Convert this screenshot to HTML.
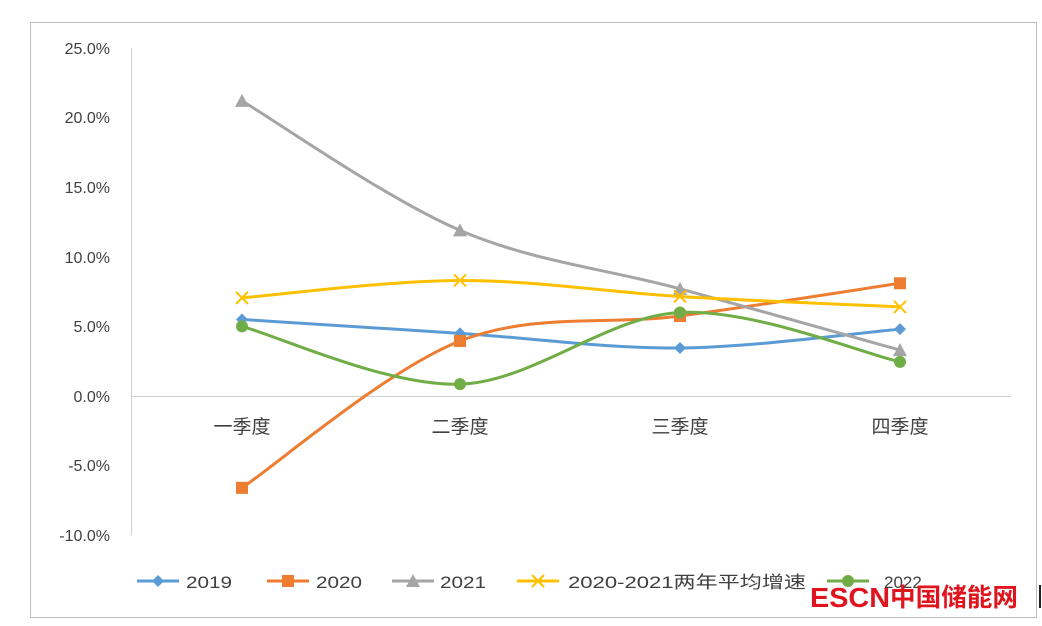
<!DOCTYPE html>
<html><head><meta charset="utf-8"><style>
body{margin:0;background:#fff;width:1042px;height:626px;overflow:hidden;font-family:"Liberation Sans","Noto Sans CJK SC",sans-serif}
</style></head><body>
<svg id="s" width="1042" height="626" xmlns="http://www.w3.org/2000/svg" style="position:absolute;left:0;top:0">
<rect x="30.5" y="22.5" width="1006" height="595" fill="#fff" stroke="#bfbfbf"/>
<g font-size="16" fill="#404040" text-anchor="end" font-family="Liberation Sans,sans-serif">
<text x="110" y="54">25.0%</text><text x="110" y="123">20.0%</text><text x="110" y="193">15.0%</text>
<text x="110" y="263">10.0%</text><text x="110" y="332">5.0%</text><text x="110" y="402">0.0%</text>
<text x="110" y="471">-5.0%</text><text x="110" y="541">-10.0%</text>
</g>
<line x1="131.5" y1="48" x2="131.5" y2="535" stroke="#d0d0d0"/>
<line x1="131" y1="396.5" x2="1011" y2="396.5" stroke="#d0d0d0"/>
<g font-size="19" fill="#404040" text-anchor="middle" font-family="Noto Sans CJK SC,sans-serif">
<text x="242" y="433">一季度</text><text x="460" y="433">二季度</text><text x="680" y="433">三季度</text><text x="900" y="433">四季度</text>
</g>
<g id="series"></g>
<g id="legend" font-size="17" fill="#404040" font-family="Liberation Sans,Noto Sans CJK SC,sans-serif">
<text x="186" y="588" textLength="46" lengthAdjust="spacingAndGlyphs">2019</text><text x="316" y="588" textLength="46" lengthAdjust="spacingAndGlyphs">2020</text><text x="440" y="588" textLength="46" lengthAdjust="spacingAndGlyphs">2021</text>
<text x="568" y="588" textLength="238" lengthAdjust="spacingAndGlyphs">2020-2021两年平均增速</text><text x="884" y="588">2022</text>
</g>
<text x="810" y="607" font-size="28" font-weight="bold" fill="#e0141e" font-family="Liberation Sans,sans-serif" textLength="80" lengthAdjust="spacingAndGlyphs">ESCN</text>
<text x="890" y="606" font-size="25" font-weight="bold" fill="#e0141e" font-family="Noto Sans CJK SC,sans-serif" textLength="128" lengthAdjust="spacingAndGlyphs">中国储能网</text>
<line x1="1040" y1="585" x2="1040" y2="608" stroke="#222" stroke-width="2"/>
</svg>
<script>
var X=[242,460,680,900];function Y(v){return 396-v*13.92;}
var S=[["#5b9bd5",[5.5,4.5,3.45,4.8],"d",165],["#ed7d31",[-6.6,3.95,5.75,8.1],"s",295],["#a5a5a5",[21.2,11.9,7.7,3.3],"t",420],["#ffc000",[7.05,8.3,7.15,6.4],"x",545],["#70ad47",[5.0,0.85,6.0,2.45],"c",855]];
var g=document.getElementById("series"),h="";
function mk(t,x,y,c){if(t=="d")return '<path d="M'+x+' '+(y-6)+'L'+(x+6)+' '+y+'L'+x+' '+(y+6)+'L'+(x-6)+' '+y+'Z" fill="'+c+'"/>';
if(t=="s")return '<rect x="'+(x-6)+'" y="'+(y-6)+'" width="12" height="12" fill="'+c+'"/>';
if(t=="t")return '<path d="M'+x+' '+(y-7)+'L'+(x+7)+' '+(y+6)+'L'+(x-7)+' '+(y+6)+'Z" fill="'+c+'"/>';
if(t=="x")return '<path d="M'+(x-6)+' '+(y-6)+'L'+(x+6)+' '+(y+6)+'M'+(x+6)+' '+(y-6)+'L'+(x-6)+' '+(y+6)+'" stroke="'+c+'" stroke-width="2"/>';
return '<circle cx="'+x+'" cy="'+y+'" r="6" fill="'+c+'"/>';}
S.forEach(function(s){var p=X.map(function(x,i){return [x,Y(s[1][i])]});var d="M"+p[0][0]+" "+p[0][1];
for(var i=0;i<3;i++){var p0=p[i-1]||p[i],p1=p[i],p2=p[i+1],p3=p[i+2]||p[i+1];var k=6;
d+="C"+(p1[0]+(p2[0]-p0[0])/k)+" "+(p1[1]+(p2[1]-p0[1])/k)+" "+(p2[0]-(p3[0]-p1[0])/k)+" "+(p2[1]-(p3[1]-p1[1])/k)+" "+p2[0]+" "+p2[1];}
h+='<path d="'+d+'" fill="none" stroke="'+s[0]+'" stroke-width="3"/>';
p.forEach(function(q){h+=mk(s[2],q[0],q[1],s[0]);});
h+='<line x1="'+(s[3]-28)+'" y1="581" x2="'+(s[3]+14)+'" y2="581" stroke="'+s[0]+'" stroke-width="3"/>'+mk(s[2],s[3]-7,581,s[0]);});
g.innerHTML=h;
</script>
</body></html>
